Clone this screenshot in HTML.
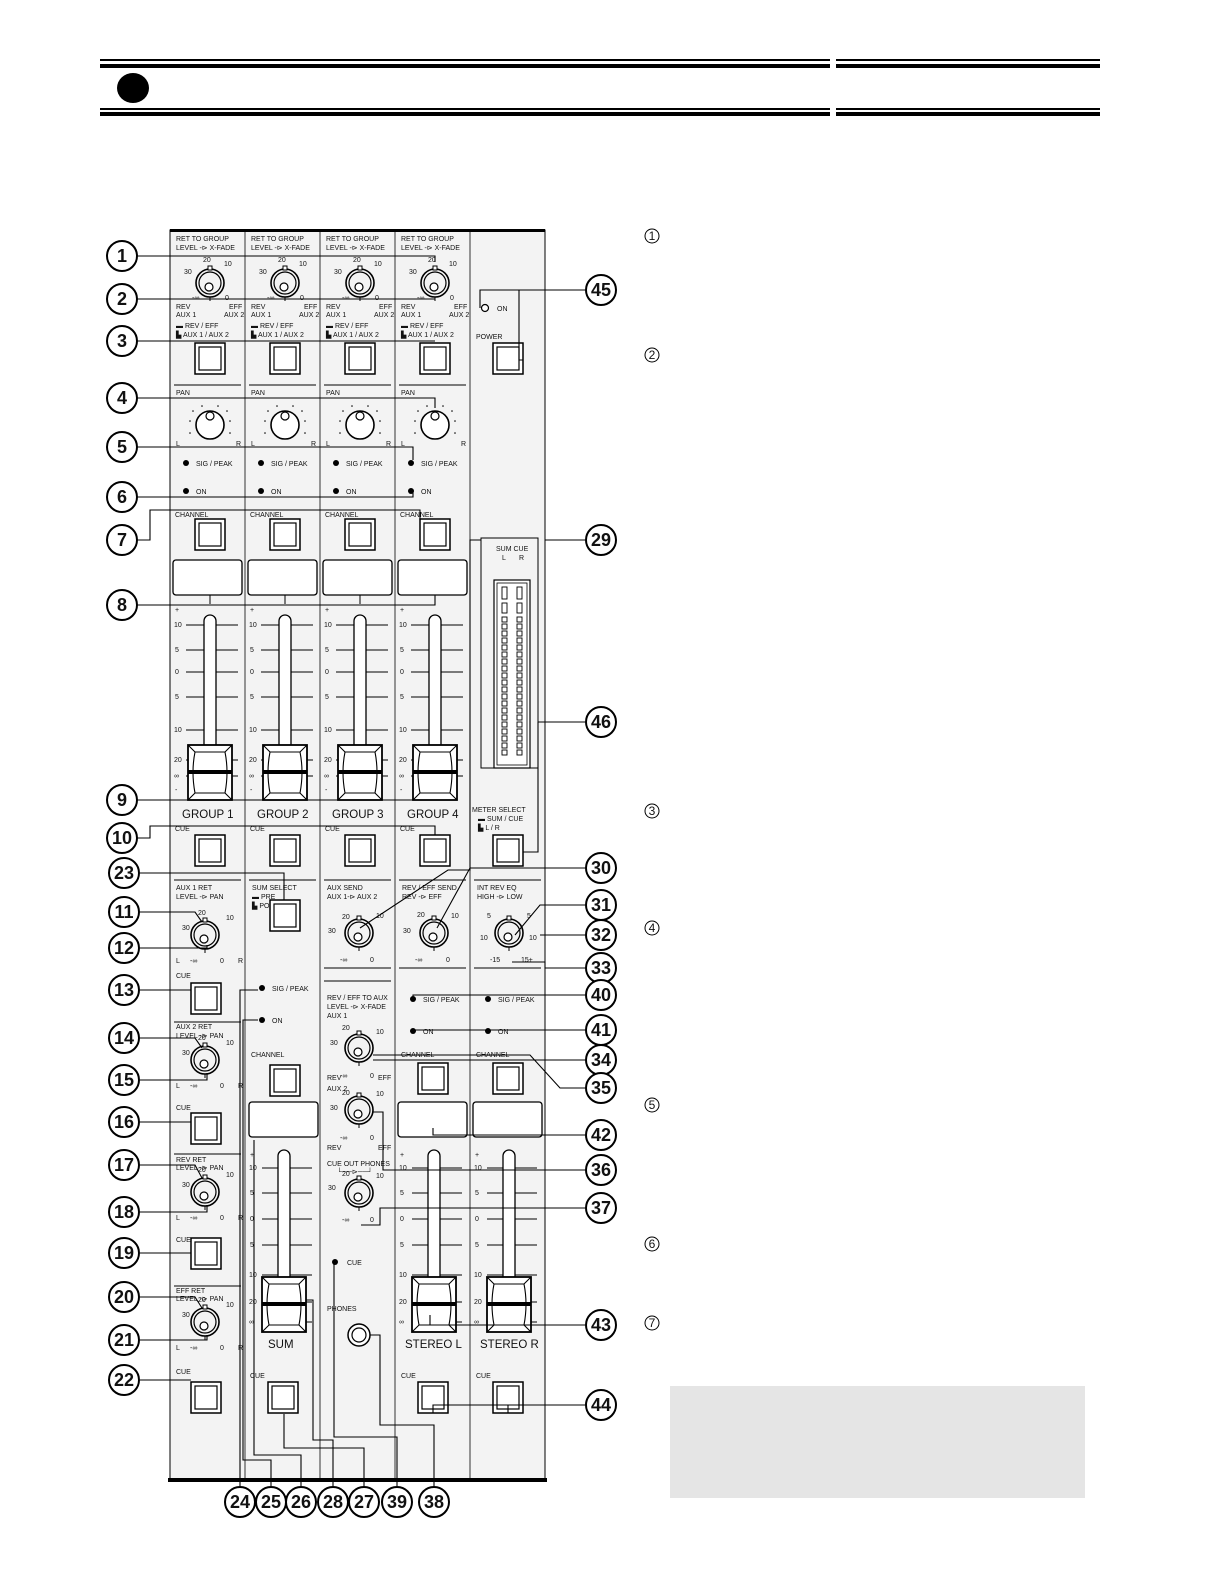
<!DOCTYPE html>
<html><head><meta charset="utf-8"><style>
html,body{margin:0;padding:0;background:#fff}
svg{display:block}
text{font-family:"Liberation Sans",sans-serif;fill:#111}
.s{font-size:7px}
.g{font-size:11.5px}
.n{font-family:"Liberation Sans Narrow","Liberation Sans",sans-serif;font-size:18px;font-weight:bold;text-anchor:middle}
.m{font-size:12px;text-anchor:middle}
</style></head><body>
<svg width="1225" height="1585" viewBox="0 0 1225 1585" xmlns="http://www.w3.org/2000/svg">
<defs>
<g id="knob"><circle r="14" fill="none" stroke="#000" stroke-width="1.6"/><circle r="11" fill="none" stroke="#000" stroke-width="1.2"/><circle cx="-1" cy="4" r="4" fill="#fff" stroke="#000" stroke-width="1.2"/><rect x="-2" y="-17" width="4" height="4" fill="#fff" stroke="#000" stroke-width="1"/><line x1="0" y1="14" x2="0" y2="18" stroke="#000"/></g>
<g id="pan"><circle r="14" fill="#fff" stroke="#000" stroke-width="1.6"/><circle cx="0" cy="-9" r="4" fill="#fff" stroke="#000" stroke-width="1.2"/><g fill="#000"><circle cx="-20" cy="-4" r=".8"/><circle cx="20" cy="-4" r=".8"/><circle cx="-17" cy="-14" r=".8"/><circle cx="17" cy="-14" r=".8"/><circle cx="-8" cy="-19" r=".8"/><circle cx="8" cy="-19" r=".8"/><circle cx="-20" cy="8" r=".8"/><circle cx="20" cy="8" r=".8"/></g></g>
<g id="btn"><rect x="0" y="0" width="30" height="31" fill="#fff" stroke="#000" stroke-width="1.5"/><rect x="4" y="4" width="22" height="23" fill="#fff" stroke="#000" stroke-width="1.2"/></g>
<g id="disp"><rect x="0" y="0" width="69" height="35" rx="3" fill="#fff" stroke="#000" stroke-width="1.3"/></g>
<g id="fcap"><rect x="0" y="0" width="44" height="55" fill="#fff" stroke="#000" stroke-width="1.8"/><path d="M0 0 L7 7 L37 7 L44 0 M0 55 L7 48 L37 48 L44 55 M7 7 Q3 27 7 48 M37 7 Q41 27 37 48" fill="none" stroke="#000" stroke-width="1.1"/><rect x="0" y="25" width="44" height="4" fill="#000"/></g>
<g id="led"><circle r="3" fill="#000"/></g>
</defs>

<rect x="100" y="59" width="730" height="2" fill="#000"/><rect x="836" y="59" width="264" height="2" fill="#000"/>
<rect x="100" y="64" width="730" height="4" fill="#000"/><rect x="836" y="64" width="264" height="4" fill="#000"/>
<rect x="100" y="108" width="730" height="2" fill="#000"/><rect x="836" y="108" width="264" height="2" fill="#000"/>
<rect x="100" y="112" width="730" height="4" fill="#000"/><rect x="836" y="112" width="264" height="4" fill="#000"/>
<ellipse cx="133" cy="88" rx="16" ry="15" fill="#000"/>

<rect x="170" y="230" width="375" height="1250" fill="#f3f3f3" stroke="#000" stroke-width="1"/>
<rect x="170" y="229" width="375" height="3" fill="#000"/>
<rect x="168" y="1478" width="379" height="4" fill="#000"/>
<g stroke="#333" stroke-width="1">
<line x1="245" y1="232" x2="245" y2="1478"/><line x1="320" y1="232" x2="320" y2="1478"/><line x1="395" y1="232" x2="395" y2="1478"/><line x1="470" y1="232" x2="470" y2="1478"/>
</g>
<g stroke="#000" stroke-width="1">
<line x1="174" y1="385" x2="241" y2="385"/><line x1="249" y1="385" x2="316" y2="385"/><line x1="324" y1="385" x2="391" y2="385"/><line x1="399" y1="385" x2="466" y2="385"/>
<line x1="174" y1="880" x2="241" y2="880"/><line x1="249" y1="880" x2="316" y2="880"/><line x1="324" y1="880" x2="391" y2="880"/><line x1="399" y1="880" x2="466" y2="880"/><line x1="474" y1="880" x2="541" y2="880"/>
<line x1="174" y1="1022" x2="241" y2="1022"/><line x1="174" y1="1154" x2="241" y2="1154"/><line x1="174" y1="1286" x2="241" y2="1286"/>
<line x1="324" y1="981" x2="391" y2="981"/><line x1="399" y1="968" x2="466" y2="968"/><line x1="474" y1="968" x2="541" y2="968"/><line x1="324" y1="968" x2="391" y2="968"/>
</g>

<g id="ch">
<text class="s" x="176" y="241">RET TO GROUP</text><text class="s" x="176" y="250">LEVEL -⊳ X-FADE</text>
<use href="#knob" x="210" y="283"/>
<text class="s" x="203" y="262">20</text><text class="s" x="224" y="266">10</text><text class="s" x="184" y="274">30</text><text class="s" x="192" y="300">-∞</text><text class="s" x="225" y="300">0</text>
<text class="s" x="176" y="309">REV</text><text class="s" x="229" y="309">EFF</text><text class="s" x="176" y="317">AUX 1</text><text class="s" x="224" y="317">AUX 2</text>
<text class="s" x="176" y="328">▬ REV / EFF</text><text class="s" x="176" y="337">▙ AUX 1 / AUX 2</text>
<use href="#btn" x="195" y="343"/>
<text class="s" x="176" y="395">PAN</text>
<use href="#pan" x="210" y="425"/>
<text class="s" x="176" y="446">L</text><text class="s" x="236" y="446">R</text>
<use href="#led" x="186" y="463"/><text class="s" x="196" y="466">SIG / PEAK</text>
<use href="#led" x="186" y="491"/><text class="s" x="196" y="494">ON</text>
<text class="s" x="175" y="517">CHANNEL</text>
<use href="#btn" x="195" y="519"/>
<use href="#disp" x="173" y="560"/>
<line x1="210" y1="595" x2="210" y2="604" stroke="#000"/>
<g stroke="#000" stroke-width="1"><line x1="186" y1="625" x2="238" y2="625"/><line x1="186" y1="650" x2="238" y2="650"/><line x1="186" y1="672" x2="238" y2="672"/><line x1="186" y1="697" x2="238" y2="697"/><line x1="186" y1="730" x2="238" y2="730"/><line x1="186" y1="760" x2="238" y2="760"/><line x1="186" y1="776" x2="238" y2="776"/></g>
<text class="s" x="175" y="612">+</text><text class="s" x="174" y="627">10</text><text class="s" x="175" y="652">5</text><text class="s" x="175" y="674">0</text><text class="s" x="175" y="699">5</text><text class="s" x="174" y="732">10</text><text class="s" x="174" y="762">20</text><text class="s" x="174" y="778">∞</text><text class="s" x="175" y="792">-</text>
<rect x="204" y="615" width="12" height="135" rx="6" fill="#fff" stroke="#000" stroke-width="1.3"/>
<use href="#fcap" x="188" y="745"/>
</g>
<use href="#ch" x="75"/><use href="#ch" x="150"/><use href="#ch" x="225"/>
<text class="g" x="182" y="818">GROUP 1</text><text class="g" x="257" y="818">GROUP 2</text><text class="g" x="332" y="818">GROUP 3</text><text class="g" x="407" y="818">GROUP 4</text>
<text class="s" x="175" y="831">CUE</text><text class="s" x="250" y="831">CUE</text><text class="s" x="325" y="831">CUE</text><text class="s" x="400" y="831">CUE</text>
<use href="#btn" x="195" y="835"/><use href="#btn" x="270" y="835"/><use href="#btn" x="345" y="835"/><use href="#btn" x="420" y="835"/>

<circle cx="485" cy="308" r="3.5" fill="#fff" stroke="#000" stroke-width="1.2"/><text class="s" x="497" y="311">ON</text>
<text class="s" x="476" y="339">POWER</text><use href="#btn" x="493" y="343"/>
<rect x="481" y="538" width="57" height="230" fill="none" stroke="#000" stroke-width="1"/>
<text class="s" x="496" y="551">SUM CUE</text><text class="s" x="502" y="560">L</text><text class="s" x="519" y="560">R</text>
<rect x="494" y="580" width="36" height="188" fill="#fff" stroke="#000" stroke-width="1.2"/>
<rect x="497" y="583" width="30" height="182" fill="none" stroke="#000" stroke-width=".8"/>
<g fill="none" stroke="#000" stroke-width=".9">
<rect x="502" y="587" width="5" height="12"/><rect x="517" y="587" width="5" height="12"/>
<rect x="502" y="603" width="5" height="10"/><rect x="517" y="603" width="5" height="10"/>
</g>
<g id="seg" fill="none" stroke="#000" stroke-width=".9"><rect x="502" y="617" width="5" height="5"/><rect x="517" y="617" width="5" height="5"/></g>
<use href="#seg" y="7"/><use href="#seg" y="14"/><use href="#seg" y="21"/><use href="#seg" y="28"/><use href="#seg" y="35"/><use href="#seg" y="42"/><use href="#seg" y="49"/><use href="#seg" y="56"/><use href="#seg" y="63"/><use href="#seg" y="70"/><use href="#seg" y="77"/><use href="#seg" y="84"/><use href="#seg" y="91"/><use href="#seg" y="98"/><use href="#seg" y="105"/><use href="#seg" y="112"/><use href="#seg" y="119"/><use href="#seg" y="126"/><use href="#seg" y="133"/>
<text class="s" x="472" y="812">METER SELECT</text><text class="s" x="478" y="821">▬ SUM / CUE</text><text class="s" x="478" y="830">▙ L / R</text>
<use href="#btn" x="493" y="835"/>

<g id="ret">
<use href="#knob" x="205" y="935"/>
<text class="s" x="198" y="915">20</text><text class="s" x="226" y="920">10</text><text class="s" x="182" y="930">30</text><text class="s" x="190" y="963">-∞</text><text class="s" x="220" y="963">0</text><text class="s" x="238" y="963">R</text><text class="s" x="176" y="963">L</text>
</g>
<text class="s" x="176" y="890">AUX 1 RET</text><text class="s" x="176" y="899">LEVEL -⊳ PAN</text>
<text class="s" x="176" y="978">CUE</text><use href="#btn" x="191" y="983"/>
<use href="#ret" y="125"/>
<text class="s" x="176" y="1029">AUX 2 RET</text><text class="s" x="176" y="1038">LEVEL -⊳ PAN</text>
<text class="s" x="176" y="1110">CUE</text><use href="#btn" x="191" y="1113"/>
<use href="#ret" y="257"/>
<text class="s" x="176" y="1162">REV RET</text><text class="s" x="176" y="1170">LEVEL -⊳ PAN</text>
<text class="s" x="176" y="1242">CUE</text><use href="#btn" x="191" y="1238"/>
<use href="#ret" y="387"/>
<text class="s" x="176" y="1293">EFF RET</text><text class="s" x="176" y="1301">LEVEL -⊳ PAN</text>
<text class="s" x="176" y="1374">CUE</text><use href="#btn" x="191" y="1382"/>

<text class="s" x="252" y="890">SUM SELECT</text><text class="s" x="252" y="899">▬ PRE</text><text class="s" x="252" y="908">▙ POST</text>
<use href="#btn" x="270" y="900"/>
<use href="#led" x="262" y="988"/><text class="s" x="272" y="991">SIG / PEAK</text>
<use href="#led" x="262" y="1020"/><text class="s" x="272" y="1023">ON</text>
<text class="s" x="251" y="1057">CHANNEL</text><use href="#btn" x="270" y="1065"/>
<use href="#disp" x="249" y="1102"/>
<g id="f2">
<g stroke="#000" stroke-width="1"><line x1="262" y1="1168" x2="312" y2="1168"/><line x1="262" y1="1193" x2="312" y2="1193"/><line x1="262" y1="1219" x2="312" y2="1219"/><line x1="262" y1="1245" x2="312" y2="1245"/><line x1="262" y1="1275" x2="312" y2="1275"/><line x1="262" y1="1302" x2="312" y2="1302"/><line x1="262" y1="1322" x2="312" y2="1322"/></g>
<text class="s" x="250" y="1157">+</text><text class="s" x="249" y="1170">10</text><text class="s" x="250" y="1195">5</text><text class="s" x="250" y="1221">0</text><text class="s" x="250" y="1247">5</text><text class="s" x="249" y="1277">10</text><text class="s" x="249" y="1304">20</text><text class="s" x="249" y="1324">∞</text>
<rect x="278" y="1150" width="12" height="145" rx="6" fill="#fff" stroke="#000" stroke-width="1.3"/>
<use href="#fcap" x="262" y="1277"/>
</g>
<text class="g" x="268" y="1348">SUM</text>
<text class="s" x="250" y="1378">CUE</text><use href="#btn" x="268" y="1382"/>

<text class="s" x="327" y="890">AUX SEND</text><text class="s" x="327" y="899">AUX 1-⊳ AUX 2</text>
<use href="#knob" x="359" y="933"/><text class="s" x="342" y="919">20</text><text class="s" x="376" y="918">10</text><text class="s" x="328" y="933">30</text><text class="s" x="340" y="962">-∞</text><text class="s" x="370" y="962">0</text>
<text class="s" x="327" y="1000">REV / EFF TO AUX</text><text class="s" x="327" y="1009">LEVEL -⊳ X-FADE</text><text class="s" x="327" y="1018">AUX 1</text>
<use href="#knob" x="359" y="1048"/><text class="s" x="342" y="1030">20</text><text class="s" x="376" y="1034">10</text><text class="s" x="330" y="1045">30</text><text class="s" x="340" y="1078">-∞</text><text class="s" x="370" y="1078">0</text>
<text class="s" x="327" y="1080">REV</text><text class="s" x="378" y="1080">EFF</text><text class="s" x="327" y="1091">AUX 2</text>
<use href="#knob" x="359" y="1110"/><text class="s" x="342" y="1095">20</text><text class="s" x="376" y="1096">10</text><text class="s" x="330" y="1110">30</text><text class="s" x="340" y="1140">-∞</text><text class="s" x="370" y="1140">0</text>
<text class="s" x="327" y="1150">REV</text><text class="s" x="378" y="1150">EFF</text>
<text class="s" x="327" y="1166">CUE OUT PHONES</text><text class="s" x="337" y="1174">└──⊳──┘</text>
<use href="#knob" x="359" y="1193"/><text class="s" x="342" y="1176">20</text><text class="s" x="376" y="1178">10</text><text class="s" x="328" y="1190">30</text><text class="s" x="342" y="1222">-∞</text><text class="s" x="370" y="1222">0</text>
<use href="#led" x="335" y="1262"/><text class="s" x="347" y="1265">CUE</text>
<text class="s" x="327" y="1311">PHONES</text>
<circle cx="359" cy="1335" r="11" fill="#fff" stroke="#000" stroke-width="1.5"/><circle cx="359" cy="1335" r="7" fill="none" stroke="#000" stroke-width="1.2"/>

<text class="s" x="402" y="890">REV / EFF SEND</text><text class="s" x="402" y="899">REV -⊳ EFF</text>
<use href="#knob" x="434" y="933"/><text class="s" x="417" y="917">20</text><text class="s" x="451" y="918">10</text><text class="s" x="403" y="933">30</text><text class="s" x="415" y="962">-∞</text><text class="s" x="446" y="962">0</text>
<text class="s" x="477" y="890">INT REV EQ</text><text class="s" x="477" y="899">HIGH -⊳ LOW</text>
<use href="#knob" x="509" y="933"/><text class="s" x="487" y="918">5</text><text class="s" x="527" y="918">5</text><text class="s" x="480" y="940">10</text><text class="s" x="529" y="940">10</text><text class="s" x="490" y="962">-15</text><text class="s" x="521" y="962">15+</text>
<use href="#led" x="413" y="999"/><text class="s" x="423" y="1002">SIG / PEAK</text>
<use href="#led" x="413" y="1031"/><text class="s" x="423" y="1034">ON</text>
<use href="#led" x="488" y="999"/><text class="s" x="498" y="1002">SIG / PEAK</text>
<use href="#led" x="488" y="1031"/><text class="s" x="498" y="1034">ON</text>
<text class="s" x="401" y="1057">CHANNEL</text><use href="#btn" x="418" y="1063"/>
<text class="s" x="476" y="1057">CHANNEL</text><use href="#btn" x="493" y="1063"/>
<use href="#disp" x="398" y="1102"/><use href="#disp" x="473" y="1102"/>
<use href="#f2" x="150"/><use href="#f2" x="225"/>
<text class="g" x="405" y="1348">STEREO L</text><text class="g" x="480" y="1348">STEREO R</text>
<text class="s" x="401" y="1378">CUE</text><use href="#btn" x="418" y="1382"/>
<text class="s" x="476" y="1378">CUE</text><use href="#btn" x="493" y="1382"/>

<g fill="none" stroke="#000" stroke-width="1.1">
<path d="M137 256 H435 V262"/><path d="M137 299 H435"/><path d="M137 341 H435"/><path d="M137 398 H435 V408"/>
<path d="M137 447 H413 V460"/><path d="M137 497 H413 V490"/><path d="M137 540 H150 V510 H420 V520"/>
<path d="M137 605 H435 V596"/><path d="M137 800 H435"/><path d="M137 838 H150 V826 H435 V835"/>
<path d="M140 873 H284 V900"/><path d="M140 912 H195 L202 922"/><path d="M140 948 H207 V945"/><path d="M140 990 H191"/>
<path d="M140 1038 H195 L202 1048"/><path d="M140 1080 H207 V1073"/><path d="M140 1122 H191"/>
<path d="M140 1165 H195 L202 1178"/><path d="M140 1212 H207 V1205"/><path d="M140 1253 H191"/>
<path d="M140 1297 H195 L202 1308"/><path d="M140 1340 H207 V1335"/><path d="M140 1380 H191"/>
<path d="M519 290 H585"/><path d="M480 308 V290 H519 V360 H523"/>
<path d="M481 540 H470 V870 H448 L360 928"/><path d="M585 540 H545"/>
<path d="M585 722 H538"/><path d="M538 722 V852 H523"/>
<path d="M585 868 H470 L437 928"/><path d="M585 905 H540 L515 935"/><path d="M585 935 H540"/><path d="M585 968 H545 V962 H512"/>
<path d="M585 995 H413 V999"/><path d="M585 1030 H413"/><path d="M585 1060 H373"/><path d="M585 1088 H560 L530 1055 H373"/>
<path d="M585 1135 H433 V1128"/><path d="M585 1170 H383 V1112 H373"/><path d="M585 1208 H380 V1225 H361"/>
<path d="M585 1325 H430 V1315"/><path d="M585 1405 H433 V1413 M508 1405 V1413"/>
<path d="M240 1486 V990 H258"/><path d="M271 1486 V1460 H243 V1020 H258"/><path d="M301 1486 V1455 H254 V1140"/>
<path d="M333 1486 V1440 H313 V1300 H306"/><path d="M364 1486 V1448 H284 V1414"/>
<path d="M397 1486 V1437 H334 V1262"/><path d="M434 1486 V1425 H380 V1335 H370"/>
</g>

<g fill="#fff" stroke="#000" stroke-width="2">
<circle cx="122" cy="256" r="15"/><circle cx="122" cy="299" r="15"/><circle cx="122" cy="341" r="15"/><circle cx="122" cy="398" r="15"/><circle cx="122" cy="447" r="15"/><circle cx="122" cy="497" r="15"/><circle cx="122" cy="540" r="15"/><circle cx="122" cy="605" r="15"/><circle cx="122" cy="800" r="15"/><circle cx="122" cy="838" r="15"/>
<circle cx="124" cy="873" r="15"/><circle cx="124" cy="912" r="15"/><circle cx="124" cy="948" r="15"/><circle cx="124" cy="990" r="15"/><circle cx="124" cy="1038" r="15"/><circle cx="124" cy="1080" r="15"/><circle cx="124" cy="1122" r="15"/><circle cx="124" cy="1165" r="15"/><circle cx="124" cy="1212" r="15"/><circle cx="124" cy="1253" r="15"/><circle cx="124" cy="1297" r="15"/><circle cx="124" cy="1340" r="15"/><circle cx="124" cy="1380" r="15"/>
<circle cx="240" cy="1502" r="15"/><circle cx="271" cy="1502" r="15"/><circle cx="301" cy="1502" r="15"/><circle cx="333" cy="1502" r="15"/><circle cx="364" cy="1502" r="15"/><circle cx="397" cy="1502" r="15"/><circle cx="434" cy="1502" r="15"/>
<circle cx="601" cy="290" r="15"/><circle cx="601" cy="540" r="15"/><circle cx="601" cy="722" r="15"/><circle cx="601" cy="868" r="15"/><circle cx="601" cy="905" r="15"/><circle cx="601" cy="935" r="15"/><circle cx="601" cy="968" r="15"/><circle cx="601" cy="995" r="15"/><circle cx="601" cy="1030" r="15"/><circle cx="601" cy="1060" r="15"/><circle cx="601" cy="1088" r="15"/><circle cx="601" cy="1135" r="15"/><circle cx="601" cy="1170" r="15"/><circle cx="601" cy="1208" r="15"/><circle cx="601" cy="1325" r="15"/><circle cx="601" cy="1405" r="15"/>
</g>
<g>
<text class="n" x="122" y="262">1</text><text class="n" x="122" y="305">2</text><text class="n" x="122" y="347">3</text><text class="n" x="122" y="404">4</text><text class="n" x="122" y="453">5</text><text class="n" x="122" y="503">6</text><text class="n" x="122" y="546">7</text><text class="n" x="122" y="611">8</text><text class="n" x="122" y="806">9</text><text class="n" x="122" y="844">10</text>
<text class="n" x="124" y="879">23</text><text class="n" x="124" y="918">11</text><text class="n" x="124" y="954">12</text><text class="n" x="124" y="996">13</text><text class="n" x="124" y="1044">14</text><text class="n" x="124" y="1086">15</text><text class="n" x="124" y="1128">16</text><text class="n" x="124" y="1171">17</text><text class="n" x="124" y="1218">18</text><text class="n" x="124" y="1259">19</text><text class="n" x="124" y="1303">20</text><text class="n" x="124" y="1346">21</text><text class="n" x="124" y="1386">22</text>
<text class="n" x="240" y="1508">24</text><text class="n" x="271" y="1508">25</text><text class="n" x="301" y="1508">26</text><text class="n" x="333" y="1508">28</text><text class="n" x="364" y="1508">27</text><text class="n" x="397" y="1508">39</text><text class="n" x="434" y="1508">38</text>
<text class="n" x="601" y="296">45</text><text class="n" x="601" y="546">29</text><text class="n" x="601" y="728">46</text><text class="n" x="601" y="874">30</text><text class="n" x="601" y="911">31</text><text class="n" x="601" y="941">32</text><text class="n" x="601" y="974">33</text><text class="n" x="601" y="1001">40</text><text class="n" x="601" y="1036">41</text><text class="n" x="601" y="1066">34</text><text class="n" x="601" y="1094">35</text><text class="n" x="601" y="1141">42</text><text class="n" x="601" y="1176">36</text><text class="n" x="601" y="1214">37</text><text class="n" x="601" y="1331">43</text><text class="n" x="601" y="1411">44</text>
</g>

<g fill="none" stroke="#000" stroke-width="1">
<circle cx="652" cy="236" r="7"/><circle cx="652" cy="355" r="7"/><circle cx="652" cy="811" r="7"/><circle cx="652" cy="928" r="7"/><circle cx="652" cy="1105" r="7"/><circle cx="652" cy="1244" r="7"/><circle cx="652" cy="1323" r="7"/>
</g>
<text class="m" x="652" y="240">1</text><text class="m" x="652" y="359">2</text><text class="m" x="652" y="815">3</text><text class="m" x="652" y="932">4</text><text class="m" x="652" y="1109">5</text><text class="m" x="652" y="1248">6</text><text class="m" x="652" y="1327">7</text>
<rect x="670" y="1386" width="415" height="112" fill="#e5e5e5"/>
</svg>
</body></html>
